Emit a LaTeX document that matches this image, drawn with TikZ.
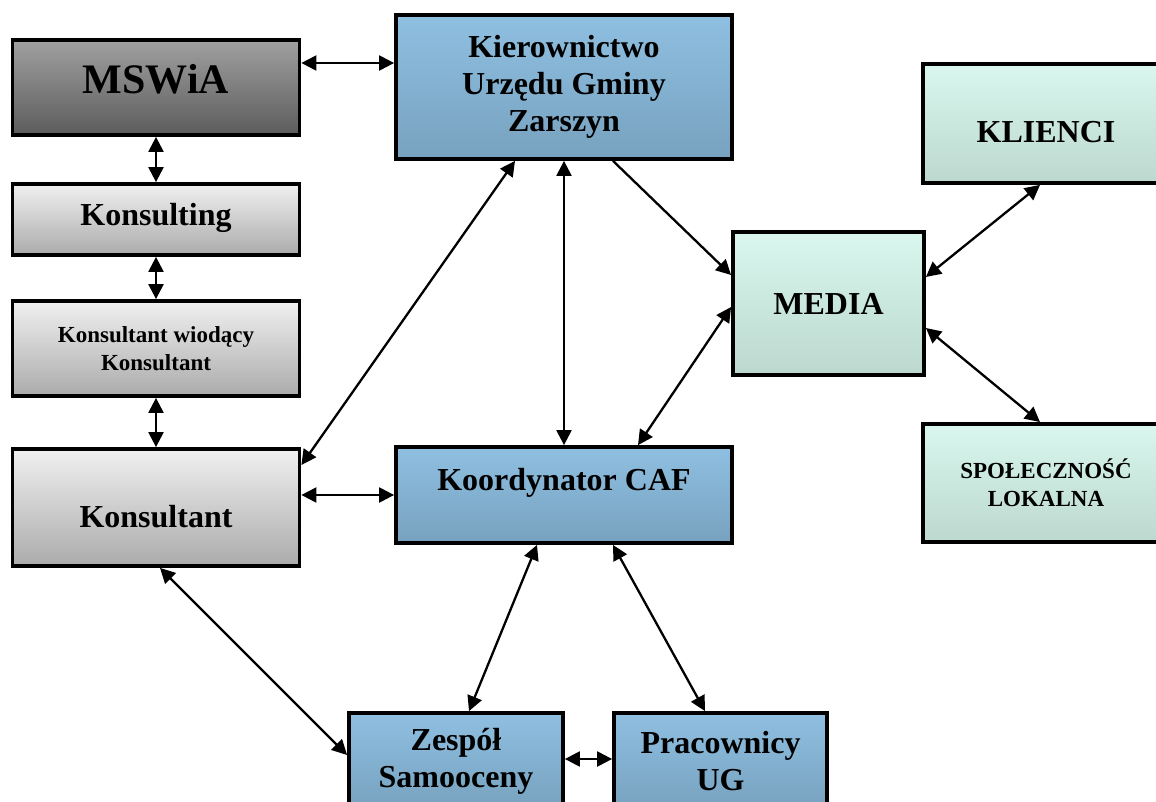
\documentclass[tikz,border=0pt]{standalone}
\usepackage{fontspec}
\setmainfont{Liberation Serif}
\usepackage{tikz}
\usetikzlibrary{arrows.meta}

\definecolor{darkTop}{HTML}{A0A0A0}
\definecolor{darkBot}{HTML}{5C5C5C}
\definecolor{greyTop}{HTML}{F0F0F0}
\definecolor{greyBot}{HTML}{ABABAB}
\definecolor{blueTop}{HTML}{8FBFE1}
\definecolor{blueBot}{HTML}{77A2BF}
\definecolor{mintTop}{HTML}{D9F7EE}
\definecolor{mintBot}{HTML}{BCD8CF}

\begin{document}
\begin{tikzpicture}[
    x=1pt, y=-1pt,
    >={Triangle[length=15pt, width=15pt]},
    arrow/.style={<->, line width=2.3pt},
    onearrow/.style={->, line width=2.3pt},
    box/.style={rectangle, draw=black, line width=3.8pt, inner sep=0pt, align=center,
                font=\bfseries\fontsize{32}{37}\selectfont},
    small/.style={font=\bfseries\fontsize{23}{28}\selectfont},
    dark/.style={box, top color=darkTop, bottom color=darkBot},
    grey/.style={box, top color=greyTop, bottom color=greyBot},
    blue/.style={box, top color=blueTop, bottom color=blueBot},
    mint/.style={box, top color=mintTop, bottom color=mintBot}
]
\useasboundingbox (0,0) rectangle (1156,802);
\clip (0,0) rectangle (1156,802);

% Nodes
\node (mswia) [dark, minimum width=287pt, minimum height=95pt,
    font=\bfseries\fontsize{42}{46}\selectfont, text height=29pt, text depth=17pt] at (156,87.5) {MSWiA};
\node (kier) [blue, minimum width=336pt, minimum height=144pt] at (564,87) {Kierownictwo\\Urzędu Gminy\\Zarszyn};
\node (klienci) [mint, minimum width=246pt, minimum height=119pt,
    text height=39pt, text depth=0pt] at (1046,123.5) {KLIENCI};
\node (konsulting) [grey, minimum width=287pt, minimum height=71pt,
    text height=22pt, text depth=10pt] at (156,219.5) {Konsulting};
\node (media) [mint, minimum width=191pt, minimum height=143pt] at (828.5,303.5) {MEDIA};
\node (wiodacy) [grey, small, minimum width=287pt, minimum height=95pt] at (156,348.5) {Konsultant wiodący\\Konsultant};
\node (konsultant) [grey, minimum width=287pt, minimum height=117pt,
    text height=40pt, text depth=0pt] at (156,507.5) {Konsultant};
\node (koord) [blue, minimum width=336pt, minimum height=96pt,
    text height=22pt, text depth=32pt] at (564,495) {Koordynator CAF};
\node (spol) [mint, small, minimum width=246pt, minimum height=118pt] at (1046,483) {SPOŁECZNOŚĆ\\LOKALNA};
\node (zespol) [blue, minimum width=214pt, minimum height=96pt] at (456,761) {Zespół\\Samooceny};
\node (prac) [blue, minimum width=213pt, minimum height=96pt] at (720.5,761) {Pracownicy\\UG};

% Arrows
\draw [arrow] ([yshift=24.5pt]mswia.east) -- ([yshift=24.5pt]mswia.east -| kier.west);
\draw [arrow] (mswia.south) -- (konsulting.north);
\draw [arrow] (konsulting.south) -- (wiodacy.north);
\draw [arrow] (wiodacy.south) -- (konsultant.north);
\draw [arrow] (konsultant.east |- koord.west) -- (koord.west);
\draw [arrow] ([xshift=-49pt]kier.south) -- ([yshift=42.5pt]konsultant.east);
\draw [arrow] (kier.south) -- (koord.north);
\draw [onearrow] ([xshift=49pt]kier.south) -- ([yshift=28.5pt]media.west);
\draw [arrow] ([yshift=-3.5pt]media.west) -- ([xshift=74pt]koord.north);
\draw [arrow] ([yshift=26.5pt]media.east) -- ([xshift=-6pt]klienci.south);
\draw [arrow] ([yshift=-24.5pt]media.east) -- ([xshift=-6pt]spol.north);
\draw [arrow] ([xshift=-27pt]koord.south) -- ([xshift=13pt]zespol.north);
\draw [arrow] ([xshift=49pt]koord.south) -- ([xshift=-15.5pt]prac.north);
\draw [arrow] ([yshift=2pt]zespol.east) -- ([yshift=2pt]prac.west);
\draw [arrow] ([xshift=4pt]konsultant.south) -- ([yshift=6pt]zespol.west);
\end{tikzpicture}
\end{document}
